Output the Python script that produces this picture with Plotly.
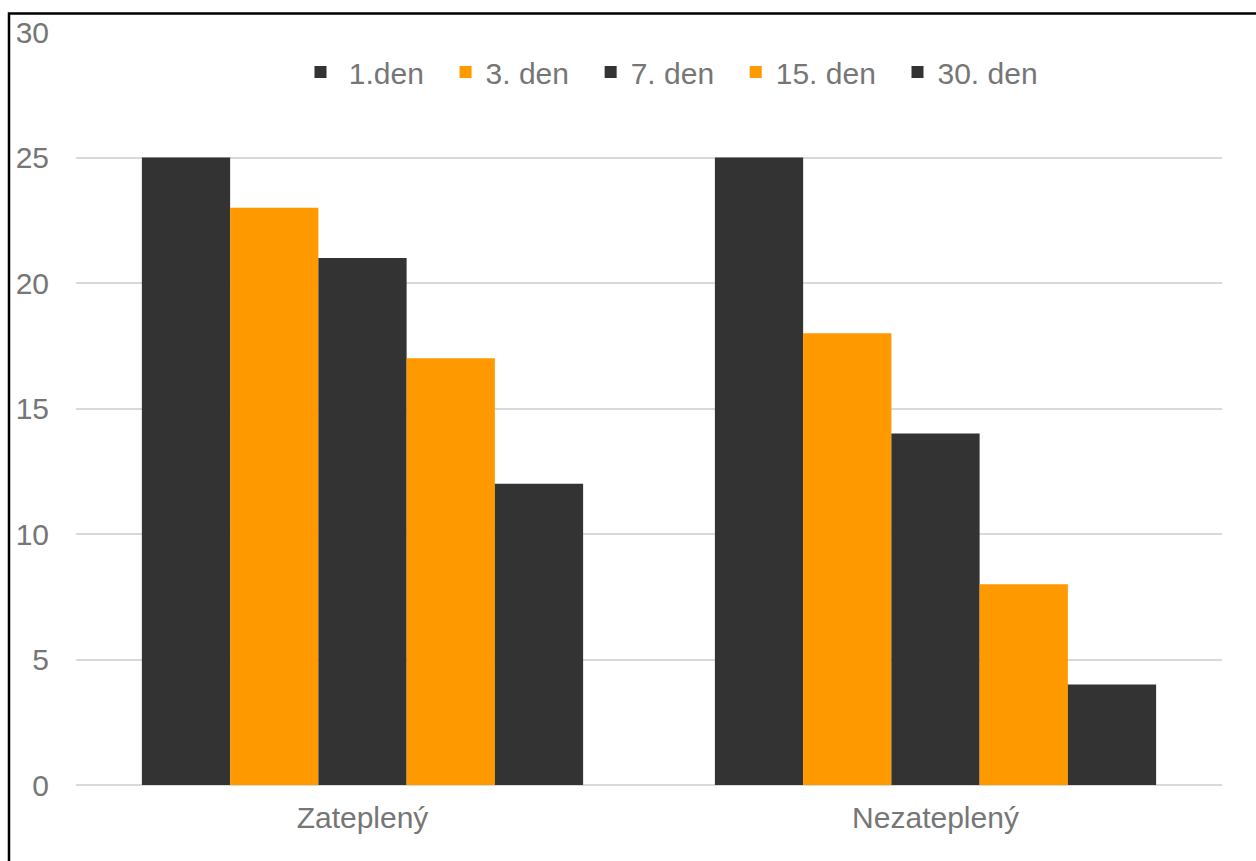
import plotly.graph_objects as go

categories = ["Zateplený", "Nezateplený"]
series_names = ["1.den", "3. den", "7. den", "15. den", "30. den"]
series_values = [
    [25, 25],
    [23, 18],
    [21, 14],
    [17, 8],
    [12, 4],
]
series_colors = ["#333333", "#FF9900", "#333333", "#FF9900", "#333333"]
y_ticks = [0, 5, 10, 15, 20, 25, 30]

W, H = 1256, 861
ML, MR, MT, MB = 76, 34, 32, 76
pw, ph = W - ML - MR, H - MT - MB

NB = "\u00a0"
fig = go.Figure()
n = len(series_names)
for i, (name, vals, col) in enumerate(zip(series_names, series_values, series_colors)):
    label = (NB if i == 0 else "") + name + (NB * 2 if i < n - 1 else "")
    fig.add_trace(go.Bar(x=categories, y=vals, name=label, marker_color=col,
                         marker_line_width=0))

def px_x(x):
    return (x - ML) / pw

def px_y(y):
    return (H - MB - y) / ph

font_color = "#767676"
FS = 30
fig.update_layout(
    width=W, height=H,
    margin=dict(l=ML, r=MR, t=MT, b=MB),
    paper_bgcolor="white", plot_bgcolor="white",
    barmode="group", bargap=0.23, bargroupgap=0,
    font=dict(family="Liberation Sans, Arial, sans-serif", size=FS, color=font_color),
    showlegend=True,
    legend=dict(orientation="h", x=px_x(672), y=px_y(72), xanchor="center", yanchor="middle",
                font=dict(size=FS, color=font_color), itemwidth=30,
                bgcolor="rgba(0,0,0,0)", traceorder="normal"),
    xaxis=dict(showgrid=False, showline=False, zeroline=False, ticks="",
               tickfont=dict(size=FS, color=font_color), ticklabelstandoff=12),
    yaxis=dict(range=[0, 30], tickvals=y_ticks, showgrid=True, gridcolor="#D9D9D9",
               gridwidth=1.5, zeroline=True, zerolinecolor="#D9D9D9", zerolinewidth=1.5,
               showline=False, ticks="", tickfont=dict(size=FS, color=font_color),
               ticklabelstandoff=26),
    shapes=[dict(type="rect", xref="paper", yref="paper",
                 x0=px_x(9), x1=px_x(1262), y0=px_y(867), y1=px_y(13.5),
                 line=dict(color="black", width=2.5), fillcolor="rgba(0,0,0,0)",
                 layer="above")],
)

fig.write_html("out.html", config={"displayModeBar": False},
               post_script="document.body.style.margin='0';")
